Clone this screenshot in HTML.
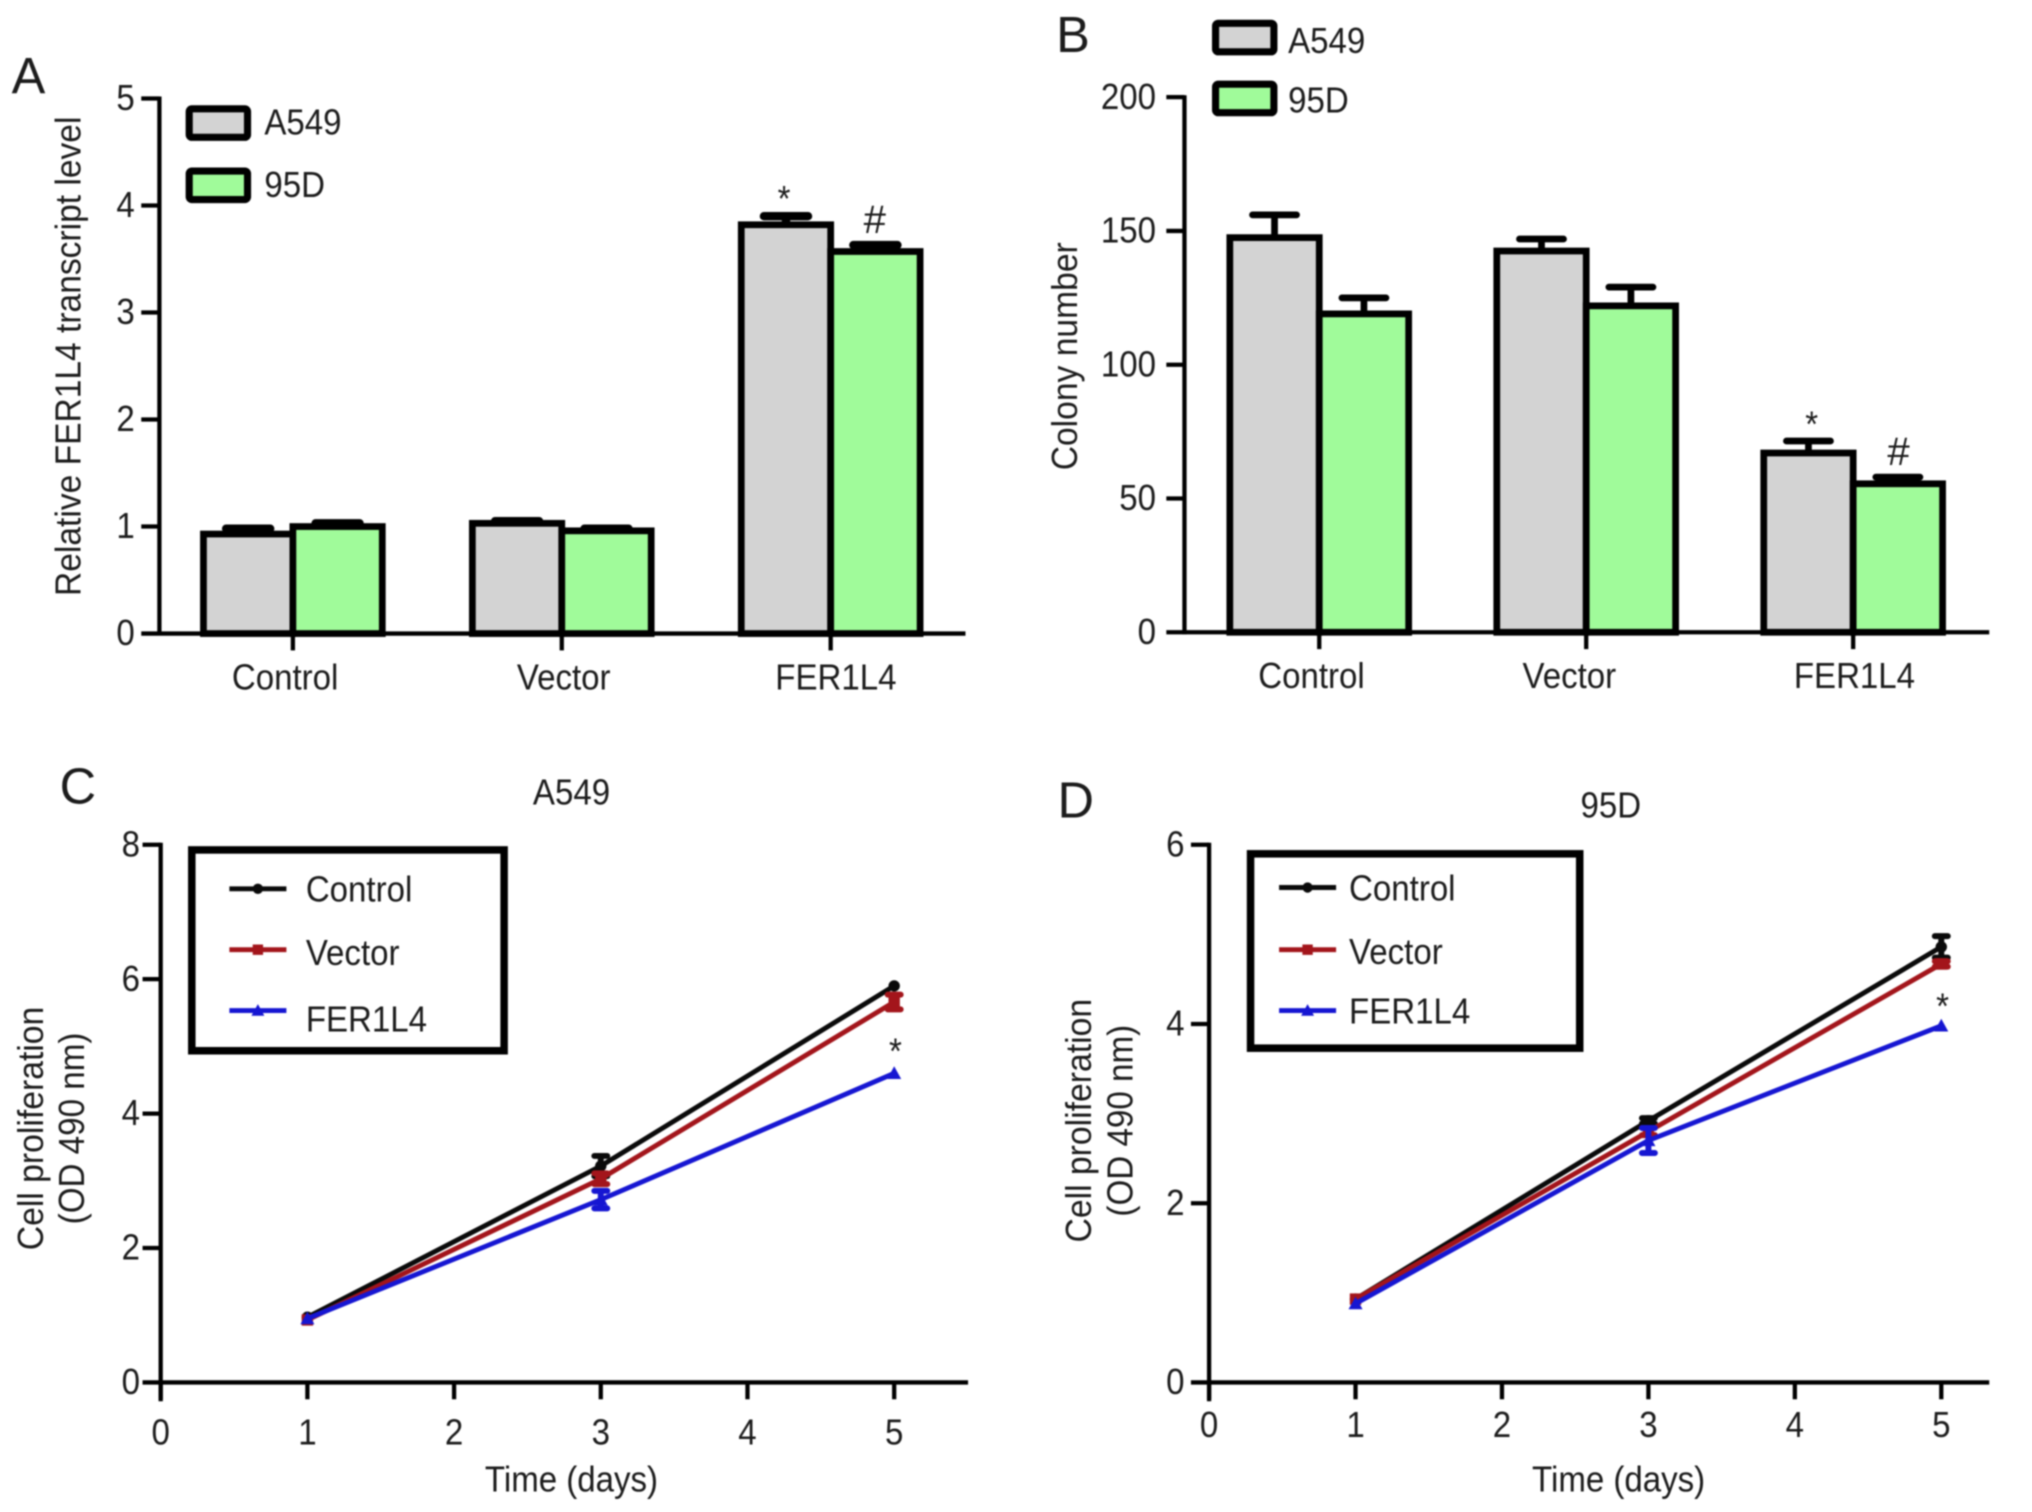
<!DOCTYPE html>
<html lang="en">
<head>
<meta charset="utf-8">
<title>FER1L4 figure</title>
<style>
html,body{margin:0;padding:0;background:#fff;width:2032px;height:1512px;overflow:hidden}
svg{display:block;filter:blur(0.9px)}
text{font-family:"Liberation Sans",Arial,sans-serif;fill:#1c1c1c;font-size:25.5px}
.letter{font-size:39px}
.hash{font-size:31px}
</style>
</head>
<body>
<svg id="figure" xmlns="http://www.w3.org/2000/svg" width="2032" height="1512" viewBox="0 0 1568 1167" preserveAspectRatio="none">
  <rect width="1568" height="1167" fill="#fff"/>
  <text class="letter" x="9" y="72">A</text>
  <text class="letter" x="815" y="40">B</text>
  <text class="letter" x="46" y="620">C</text>
  <text class="letter" x="816" y="631">D</text>

  <text transform="translate(62 275) rotate(-90)" text-anchor="middle" textLength="370" lengthAdjust="spacingAndGlyphs">Relative FER1L4 transcript level</text>
  <text transform="translate(831 275) rotate(-90)" text-anchor="middle" textLength="176" lengthAdjust="spacingAndGlyphs">Colony number</text>

  <text transform="translate(33 871) rotate(-90)" text-anchor="middle" textLength="188" lengthAdjust="spacingAndGlyphs">Cell proliferation</text>
  <text transform="translate(65 871) rotate(-90)" text-anchor="middle" textLength="148" lengthAdjust="spacingAndGlyphs">(OD 490 nm)</text>
  <text transform="translate(842 865) rotate(-90)" text-anchor="middle" textLength="188" lengthAdjust="spacingAndGlyphs">Cell proliferation</text>
  <text transform="translate(874 865) rotate(-90)" text-anchor="middle" textLength="148" lengthAdjust="spacingAndGlyphs">(OD 490 nm)</text>

  <text x="441" y="621" text-anchor="middle">A549</text>
  <text x="1243" y="631" text-anchor="middle">95D</text>
  <text x="441" y="1151" text-anchor="middle">Time (days)</text>
  <text x="1249" y="1151" text-anchor="middle">Time (days)</text>

  <text x="605" y="163" text-anchor="middle">*</text>
  <text class="hash" x="675" y="180" text-anchor="middle">#</text>
  <text x="1398" y="337" text-anchor="middle">*</text>
  <text class="hash" x="1465" y="359" text-anchor="middle">#</text>
  <text x="691" y="821" text-anchor="middle">*</text>
  <text x="1499" y="786" text-anchor="middle">*</text>

  <g>
    <rect x="146" y="84" width="45" height="22" rx="2" fill="#d3d3d3" stroke="#000" stroke-width="5.5"/>
    <text x="204" y="104">A549</text>
    <rect x="146" y="132" width="45" height="22" rx="2" fill="#a0fb9a" stroke="#000" stroke-width="5.5"/>
    <text x="204" y="152">95D</text>
  </g>
  <g>
    <rect x="938" y="18" width="45" height="22" rx="2" fill="#d3d3d3" stroke="#000" stroke-width="5.5"/>
    <text x="994" y="41">A549</text>
    <rect x="938" y="65" width="45" height="22" rx="2" fill="#a0fb9a" stroke="#000" stroke-width="5.5"/>
    <text x="994" y="87">95D</text>
  </g>
</svg>
<script>
// Panel A: relative transcript level
const barCategories = ['Control', 'Vector', 'FER1L4'];
const barSeriesNames = ['A549', '95D'];
const panelAYTicks = [0, 1, 2, 3, 4, 5];
const panelAa549 = [0.93, 1.03, 3.82];
const panelAa549Upper = [0.98, 1.05, 3.90];
const panelA95d = [1.00, 0.96, 3.57];
const panelA95dUpper = [1.03, 0.98, 3.63];

// Panel B: colony number
const panelBYTicks = [0, 50, 100, 150, 200];
const panelBa549 = [147.5, 142.5, 67];
const panelBa549Upper = [156, 147, 71.5];
const panelB95d = [119, 122, 55.5];
const panelB95dUpper = [125, 129, 58];

// Panels C and D: proliferation curves
const lineSeriesNames = ['Control', 'Vector', 'FER1L4'];
const timeDays = [1, 3, 5];
const xTimeTicks = [0, 1, 2, 3, 4, 5];
const panelCYTicks = [0, 2, 4, 6, 8];
const panelCControl = [0.97, 3.22, 5.90];
const panelCControlErr = [0, 0.15, 0];
const panelCVector = [0.93, 3.03, 5.66];
const panelCVectorErr = [0, 0.08, 0.11];
const panelCFer = [0.95, 2.72, 4.60];
const panelCFerErr = [0, 0.13, 0];

const panelDYTicks = [0, 2, 4, 6];
const panelDControl = [0.93, 2.92, 4.86];
const panelDControlErr = [0, 0.03, 0.12];
const panelDVector = [0.93, 2.80, 4.67];
const panelDVectorErr = [0, 0.04, 0.03];
const panelDFer = [0.88, 2.70, 3.98];
const panelDFerErr = [0, 0.14, 0];

const NS = 'http://www.w3.org/2000/svg';
const svg = document.getElementById('figure');

function make(tag, props, parent) {
  const e = document.createElementNS(NS, tag);
  for (const k in props) e.setAttribute(k, props[k]);
  (parent || svg).appendChild(e);
  return e;
}
function linear(d0, d1, r0, r1) {
  return v => r0 + (v - d0) / (d1 - d0) * (r1 - r0);
}

function drawYAxis(axisX, y, ticks, labelRight, topY, bottomY, tickLen, prefix) {
  const g = make('g', {});
  
  
  const a = make('line', {x1: axisX, x2: axisX, y1: topY - 1.5, y2: bottomY + 1.5, stroke: '#000', 'stroke-width': 3.3}, g);
  
  
  ticks.forEach(t => {
    const m = make('line', {x1: axisX - tickLen, x2: axisX, y1: y(t), y2: y(t), stroke: '#000', 'stroke-width': 3.3}, g);
    
    
    const l = make('text', {x: labelRight, y: y(t) + 9, 'text-anchor': 'end'}, g);
    l.textContent = t;
    
    
  });
}

function drawBarPanel(cfg, a549, a549Up, d95, d95Up, yTicks) {
  const y = linear(0, cfg.yMax, cfg.y0, cfg.yTop);
  const tickX = i => cfg.firstTick + i * cfg.step;
  const g = make('g', {});
  
  
  barCategories.forEach((cat, i) => {
    [[a549, a549Up, '#d3d3d3', -1], [d95, d95Up, '#a0fb9a', 0]].forEach(([vals, ups, fill, side], s) => {
      const left = tickX(i) + side * cfg.barW;
      const cx = left + cfg.barW / 2;
      const eb = make('path', {
        d: 'M' + cx + ' ' + y(vals[i]) + 'V' + y(ups[i]) + 'M' + (cx - 17) + ' ' + y(ups[i]) + 'H' + (cx + 17),
        fill: 'none', stroke: '#000', 'stroke-width': cfg.capW, 'stroke-linecap': 'round'
      }, g);
      
      
      const b = make('rect', {
        x: left, y: y(vals[i]), width: cfg.barW, height: cfg.y0 - y(vals[i]),
        fill: fill, stroke: '#000', 'stroke-width': 5.2
      }, g);
      
      
    });
    const t = make('line', {x1: tickX(i), x2: tickX(i), y1: cfg.y0, y2: cfg.y0 + 13, stroke: '#000', 'stroke-width': 3.3});
    
    
    const l = make('text', {x: cfg.labelX[i], y: cfg.y0 + 43, 'text-anchor': 'middle'});
    l.textContent = cat;
    
    
  });
  const xa = make('line', {x1: cfg.axisX, x2: cfg.xEnd, y1: cfg.y0, y2: cfg.y0, stroke: '#000', 'stroke-width': 3.3});
  
  
  drawYAxis(cfg.axisX, y, yTicks, cfg.labelRight, cfg.yTop, cfg.y0, 14, cfg.prefix);
}

const lineColors = ['#0a0a0a', '#a3151b', '#1616d2'];

function marker(kind, cx, cy, color, size, parent) {
  if (kind === 0) return make('circle', {cx: cx, cy: cy, r: size, fill: color}, parent);
  if (kind === 1) return make('rect', {x: cx - size, y: cy - size, width: size * 2, height: size * 2, fill: color}, parent);
  return make('path', {d: 'M' + cx + ' ' + (cy - size - 1) + 'L' + (cx + size + 1) + ' ' + (cy + size) + 'H' + (cx - size - 1) + 'Z', fill: color}, parent);
}

function drawLinePanel(cfg, series, errs, yTicks) {
  const y = linear(0, cfg.yMax, cfg.y0, cfg.yTop);
  const x = linear(0, 5, cfg.axisX, cfg.x5);
  series.forEach((vals, s) => {
    const name = lineSeriesNames[s].toLowerCase();
    const g = make('g', {});
    
    
    const pts = timeDays.map((d, i) => x(d) + ',' + y(vals[i])).join(' ');
    const ln = make('polyline', {points: pts, fill: 'none', stroke: lineColors[s], 'stroke-width': 3.8}, g);
    
    
    timeDays.forEach((d, i) => {
      const cx = x(d), hi = y(vals[i] + errs[s][i]), lo = y(vals[i] - errs[s][i]);
      if (errs[s][i] > 0) {
        const eb = make('path', {
          d: 'M' + cx + ' ' + hi + 'V' + lo + 'M' + (cx - 5) + ' ' + hi + 'H' + (cx + 5) + 'M' + (cx - 5) + ' ' + lo + 'H' + (cx + 5),
          fill: 'none', stroke: lineColors[s], 'stroke-width': 4.6, 'stroke-linecap': 'round'
        }, g);
        
        
      }
      const mk = marker(s, cx, y(vals[i]), lineColors[s], 4.4, g);
      
      
    });
  });
  xTimeTicks.forEach(t => {
    const m = make('line', {x1: x(t), x2: x(t), y1: cfg.y0, y2: cfg.y0 + 13, stroke: '#000', 'stroke-width': 3.3});
    
    
    const l = make('text', {x: x(t), y: cfg.tickLabelY, 'text-anchor': 'middle'});
    l.textContent = t;
    
    
  });
  const xa = make('line', {x1: cfg.axisX, x2: cfg.xEnd, y1: cfg.y0, y2: cfg.y0, stroke: '#000', 'stroke-width': 3.3});
  
  
  drawYAxis(cfg.axisX, y, yTicks, cfg.labelRight, cfg.yTop, cfg.y0 + 13, 14, cfg.prefix);

  const L = cfg.legend;
  const box = make('g', {});
  
  
  const fr = make('rect', {x: L.x, y: L.y, width: L.w, height: L.h, fill: '#fff', stroke: '#000', 'stroke-width': 5.8}, box);
  
  
  lineSeriesNames.forEach((n, s) => {
    const ly = L.rows[s];
    const sw = make('line', {x1: L.lineX, x2: L.lineX + 44, y1: ly, y2: ly, stroke: lineColors[s], 'stroke-width': 3.8}, box);
    
    
    const mk = marker(s, L.lineX + 22, ly, lineColors[s], 4, box);
    
    
    const tx = make('text', {x: L.textX, y: L.textRows[s] + 10}, box);
    tx.textContent = n;
    
    
  });
}

drawBarPanel({prefix: 'panel-a', axisX: 123, xEnd: 745, y0: 489, yTop: 76, yMax: 5, firstTick: 226, step: 207.5, barW: 69, capW: 6.5, labelRight: 104, labelX: [220, 435, 645]},
  panelAa549, panelAa549Upper, panelA95d, panelA95dUpper, panelAYTicks);
drawBarPanel({prefix: 'panel-b', axisX: 914, xEnd: 1535, y0: 488, yTop: 75, yMax: 200, firstTick: 1018, step: 206, barW: 69, capW: 5.2, labelRight: 892, labelX: [1012, 1211, 1431]},
  panelBa549, panelBa549Upper, panelB95d, panelB95dUpper, panelBYTicks);
drawLinePanel({prefix: 'panel-c', axisX: 124, x5: 690, xEnd: 747, y0: 1067, yTop: 652, yMax: 8, labelRight: 108, tickLabelY: 1115,
  legend: {x: 148, y: 656, w: 241, h: 155, lineX: 177, textX: 236, rows: [686, 733, 780], textRows: [686, 735, 786]}},
  [panelCControl, panelCVector, panelCFer], [panelCControlErr, panelCVectorErr, panelCFerErr], panelCYTicks);
drawLinePanel({prefix: 'panel-d', axisX: 933, x5: 1498, xEnd: 1535, y0: 1067, yTop: 652, yMax: 6, labelRight: 914, tickLabelY: 1109,
  legend: {x: 965, y: 659, w: 254, h: 150, lineX: 987, textX: 1041, rows: [685, 733, 780], textRows: [685, 734, 780]}},
  [panelDControl, panelDVector, panelDFer], [panelDControlErr, panelDVectorErr, panelDFerErr], panelDYTicks);

// The reference type is tall and narrow: enlarge the glyphs but keep each run's original width.
svg.querySelectorAll('text').forEach(t => {
  if (t.classList.contains('letter') || t.classList.contains('hash')) return;
  const w = t.getAttribute('textLength') || t.getComputedTextLength();
  t.style.fontSize = '28px';
  t.setAttribute('textLength', w);
  t.setAttribute('lengthAdjust', 'spacingAndGlyphs');
});
</script>
</body>
</html>
